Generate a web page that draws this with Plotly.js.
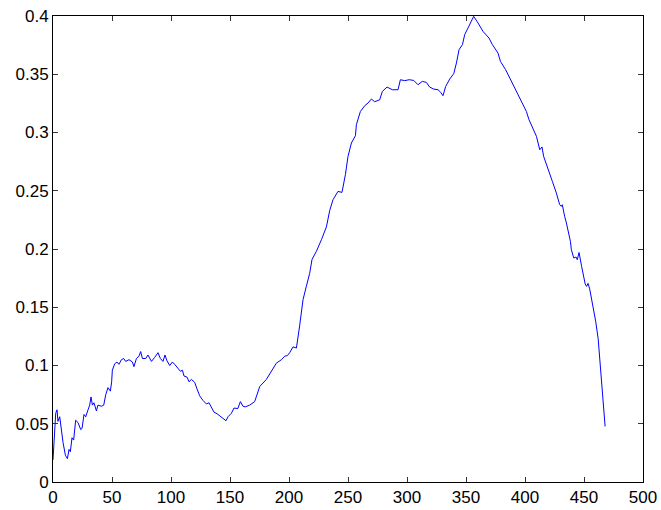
<!DOCTYPE html>
<html>
<head>
<meta charset="utf-8">
<script src="https://cdn.plot.ly/plotly-3.0.1.min.js"></script>
<style>html,body{margin:0;padding:0;background:#fff;}#chart{width:661px;height:510px;}</style>
</head>
<body>
<div id="chart"></div>
<script>
var xValues = [0,0.6,2.3,3.4,4.2,5.7,7.1,8.5,10.5,12.2,13.6,14.7,16.1,17.5,19.2,21.2,23.5,24.6,26.3,27.7,29.7,31.1,32.2,33.4,34.7,36.8,38.1,41,43,44.7,46.6,48.6,49.7,50.3,52.3,54.2,55.9,58,59.9,61.6,64.4,67.3,68.6,70.7,72.9,74.3,75.8,78.6,80.5,83.4,86.2,89,91,93.2,94.9,96.6,98.9,101.2,103.1,105.9,108,109.7,111,113.6,115.3,117.3,120.1,122,124.3,127.1,130,132.2,134.2,136.4,139,142.7,145.5,146.6,148.3,151.2,153.4,156.6,158.8,161,163,166.7,170.9,172.4,175.2,180.8,185.1,189.3,193.6,196.4,198.6,200.6,203.4,206.3,209,211.9,214.7,217.5,219.5,223.2,227.5,231.7,234.5,237.3,241.5,244.9,247.8,250,252.9,256.3,257.1,260.5,264.2,267,269.8,272.6,276.9,279.1,283.1,287.6,292.4,294.4,298.1,301.7,305.7,309.3,313,316.4,319.2,322.6,326.3,328.6,330.5,332.8,336.2,339.6,341.9,344.1,347,348.9,351.7,354.6,356.5,360.2,364.4,369.5,372.4,377.1,379.2,383.6,388.5,392.7,397,401.2,403.4,406.8,409.7,412.5,414.4,415.8,419.5,423.2,426.6,429.4,430.8,431.6,433.6,435.1,438.5,439.3,441.3,443.3,444.3,445.8,448,451,452.2,453.4,454.8,457.6,459.9,462,463.5,465.4,466.8,467.9];
var yValues = [0.019,0.028,0.059,0.062,0.052,0.056,0.042,0.034,0.023,0.020,0.028,0.026,0.038,0.036,0.053,0.051,0.045,0.046,0.058,0.056,0.062,0.066,0.073,0.066,0.068,0.061,0.066,0.065,0.066,0.075,0.081,0.078,0.086,0.096,0.1015,0.103,0.101,0.105,0.106,0.1035,0.105,0.103,0.099,0.106,0.108,0.112,0.106,0.106,0.109,0.1035,0.107,0.111,0.106,0.1035,0.109,0.104,0.100,0.103,0.101,0.098,0.095,0.096,0.091,0.090,0.086,0.088,0.0855,0.080,0.074,0.070,0.067,0.068,0.0635,0.060,0.0586,0.056,0.0535,0.0526,0.056,0.059,0.0635,0.063,0.069,0.065,0.0645,0.066,0.069,0.0735,0.082,0.088,0.095,0.102,0.105,0.108,0.1085,0.111,0.116,0.115,0.134,0.1565,0.168,0.179,0.191,0.198,0.208,0.219,0.233,0.2423,0.2494,0.2486,0.2638,0.2795,0.291,0.2973,0.3067,0.318,0.323,0.3253,0.3287,0.3264,0.3281,0.3353,0.339,0.3367,0.3367,0.3453,0.3445,0.3453,0.3447,0.341,0.3439,0.343,0.339,0.3373,0.3367,0.3344,0.3316,0.3396,0.3459,0.3505,0.3597,0.3711,0.3754,0.384,0.3897,0.3954,0.3997,0.394,0.3868,0.3811,0.3754,0.3682,0.361,0.3539,0.3439,0.3353,0.3267,0.318,0.311,0.3039,0.2967,0.2852,0.2876,0.2795,0.2695,0.258,0.248,0.238,0.2366,0.238,0.228,0.2223,0.2065,0.1994,0.1923,0.1931,0.1908,0.197,0.185,0.170,0.1679,0.1705,0.1658,0.152,0.138,0.123,0.103,0.083,0.065,0.0477];

var xTickVals = [0,50,100,150,200,250,300,350,400,450,500];
var xTickText = ['0','50','100','150','200','250','300','350','400','450','500'];
var yTickVals = [0,0.05,0.1,0.15,0.2,0.25,0.3,0.35,0.4];
var yTickText = ['0','0.05','0.1','0.15','0.2','0.25','0.3','0.35','0.4'];

var trace = {
  x: xValues, y: yValues, type: 'scatter', mode: 'lines',
  line: {color: 'rgb(0,0,255)', width: 1}, hoverinfo: 'skip'
};

var axisCommon = {
  showgrid: false, zeroline: false, showline: true, linecolor: '#000', linewidth: 1,
  mirror: 'ticks', ticks: 'inside', ticklen: 5, tickwidth: 1, tickcolor: '#333',
  tickfont: {family: 'Liberation Sans, Arial, sans-serif', size: 17, color: '#000'},
  tickmode: 'array'
};

var layout = {
  width: 661, height: 510,
  margin: {l: 53, r: 18, t: 16, b: 28, pad: 0},
  paper_bgcolor: '#fff', plot_bgcolor: '#fff',
  showlegend: false,
  xaxis: Object.assign({}, axisCommon, {range: [0, 500], tickvals: xTickVals, ticktext: xTickText}),
  yaxis: Object.assign({}, axisCommon, {range: [0, 0.4], tickvals: yTickVals, ticktext: yTickText})
};

Plotly.newPlot('chart', [trace], layout, {displayModeBar: false, staticPlot: true});
</script>
</body>
</html>
